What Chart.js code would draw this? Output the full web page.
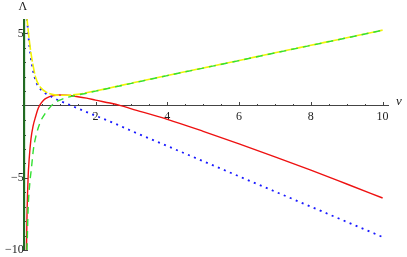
<!DOCTYPE html>
<html>
<head>
<meta charset="utf-8">
<script src="https://cdn.jsdelivr.net/npm/chart.js@4"></script>
<style>
  html, body { margin: 0; padding: 0; background: #fff; }
  #wrap { width: 407px; height: 257px; }
</style>
</head>
<body>
<div id="wrap"><canvas id="lambdaChart"></canvas></div>
<script>
// values (v, Lambda)
const redV = [0.075, 0.09, 0.12, 0.15, 0.2, 0.26, 0.33, 0.4, 0.45, 0.55, 0.63, 0.82, 1.0, 1.2, 1.4, 1.75, 2.0, 2.4, 2.7, 3, 4, 5, 6, 7, 8, 9, 10];
const redL = [-10, -7.5, -5.0, -3.7, -2.3, -1.4, -0.75, -0.2, 0.05, 0.38, 0.52, 0.69, 0.74, 0.73, 0.66, 0.52, 0.38, 0.18, 0.0, -0.22, -0.95, -1.78, -2.65, -3.55, -4.47, -5.43, -6.4];

const blueV = [0.09, 0.13, 0.18, 0.25, 0.35, 0.5, 0.65, 0.8, 1.0, 1.28, 1.56, 2.0, 2.5, 3, 4, 5, 6, 7, 8, 9, 10];
const blueL = [6.0, 4.8, 3.6, 2.5, 1.6, 1.05, 0.78, 0.58, 0.33, 0.05, -0.25, -0.7, -1.2, -1.75, -2.8, -3.85, -4.9, -5.95, -7.0, -8.05, -9.1];

const yellowV = [0.09, 0.14, 0.19, 0.25, 0.33, 0.47, 0.65, 0.82, 1.0, 1.2, 1.5, 2.0, 3, 4, 5, 6, 7, 8, 9, 10];
const yellowL = [6.0, 4.8, 3.8, 2.9, 1.95, 1.25, 0.9, 0.76, 0.72, 0.72, 0.78, 1.02, 1.56, 2.09, 2.61, 3.13, 3.66, 4.18, 4.7, 5.23];

const greenV = [0.09, 0.12, 0.17, 0.21, 0.27, 0.34, 0.45, 0.58, 0.7, 0.82, 1.1, 1.37, 1.75, 2.0, 3, 4, 5, 6, 7, 8, 9, 10];
const greenL = [-10, -7.2, -5.3, -4.4, -3.0, -2.1, -1.2, -0.6, -0.2, 0.12, 0.48, 0.67, 0.86, 1.0, 1.54, 2.08, 2.6, 3.12, 3.65, 4.17, 4.69, 5.22];

const wallV = [0.01, 0.01];
const wallL = [-10, 6];

const xLabelTicks = [2, 4, 6, 8, 10];
const yLabelTicks = [-10, -5, 5];
const xMinorTicks = [0.5, 1, 1.5, 2.5, 3, 3.5, 4.5, 5, 5.5, 6.5, 7, 7.5, 8.5, 9, 9.5];
const yMinorTicks = [-9, -8, -7, -6, -4, -3, -2, -1, 1, 2, 3, 4];

const pts = (xs, ys) => xs.map((x, i) => ({ x: x, y: ys[i] }));

// keep the centred axes from shrinking the plot area
const noPad = s => { s.paddingTop = 0; s.paddingBottom = 0; s.paddingLeft = 0; s.paddingRight = 0; };

const axisMarks = {
    id: 'axisMarks',
    beforeDatasetsDraw(chart) {
        const { ctx, scales: { x, y } } = chart;
        const y0 = Math.round(y.getPixelForValue(0));
        const x0 = Math.round(x.getPixelForValue(0));
        ctx.save();
        ctx.strokeStyle = '#444';
        ctx.lineWidth = 1;
        ctx.beginPath();
        xLabelTicks.forEach(v => { const px = Math.round(x.getPixelForValue(v)) + 0.5; ctx.moveTo(px, y0); ctx.lineTo(px, y0 - 4); });
        xMinorTicks.forEach(v => { const px = Math.round(x.getPixelForValue(v)) + 0.5; ctx.moveTo(px, y0); ctx.lineTo(px, y0 - 2); });
        yLabelTicks.forEach(v => { const py = Math.round(y.getPixelForValue(v)) + 0.5; ctx.moveTo(x0, py); ctx.lineTo(x0 + 4, py); });
        yMinorTicks.forEach(v => { const py = Math.round(y.getPixelForValue(v)) + 0.5; ctx.moveTo(x0, py); ctx.lineTo(x0 + 2, py); });
        ctx.stroke();
        ctx.restore();
    },
    afterDraw(chart) {
        const { ctx, scales: { x, y } } = chart;
        ctx.save();
        ctx.fillStyle = '#222';
        ctx.textAlign = 'center';
        ctx.textBaseline = 'middle';
        ctx.font = '12px "Liberation Serif"';
        ctx.fillText('Λ', x.getPixelForValue(0) - 1, 7);
        ctx.font = 'italic 13px "Liberation Serif"';
        ctx.fillText('v', 399, y.getPixelForValue(0) - 4);
        ctx.restore();
    }
};

const ctx = document.getElementById('lambdaChart').getContext('2d');

const lambdaChart = new Chart(ctx, {
    type: 'scatter',
    data: {
        datasets: [
            { data: pts(wallV, wallL), borderColor: '#1f6e1f', borderWidth: 2 },
            { data: pts(greenV, greenL), borderColor: '#33e033', borderWidth: 1.4, borderDash: [7, 5] },
            { data: pts(yellowV, yellowL), borderColor: '#f2f20a', borderWidth: 1.6, borderDash: [10, 2], borderDashOffset: 3 },
            { data: pts(blueV, blueL), borderColor: '#1a1aff', borderWidth: 1.8, borderDash: [2, 4.5] },
            { data: pts(redV, redL), borderColor: '#ee1111', borderWidth: 1.4 }
        ].map(d => Object.assign(d, { showLine: true, pointRadius: 0, fill: false, cubicInterpolationMode: 'monotone' }))
    },
    options: {
        responsive: true,
        maintainAspectRatio: false,
        animation: false,
        layout: { padding: { left: 22, right: 19, top: 19, bottom: 7 } },
        plugins: { legend: { display: false }, tooltip: { enabled: false } },
        scales: {
            x: {
                type: 'linear',
                min: -0.05,
                max: 10.15,
                position: { y: 0 },
                afterBuildTicks: s => { s.ticks = xLabelTicks.map(v => ({ value: v })); },
                afterFit: noPad,
                grid: { display: false, drawTicks: false },
                border: { display: true, color: '#444', width: 1 },
                ticks: {
                    autoSkip: false, maxRotation: 0, padding: 4, color: '#222',
                    font: { family: '"Liberation Serif"', size: 12 },
                    callback: v => String(v)
                }
            },
            y: {
                type: 'linear',
                min: -10,
                max: 6,
                position: { x: 0 },
                afterBuildTicks: s => { s.ticks = yLabelTicks.map(v => ({ value: v })); },
                afterFit: noPad,
                grid: { display: false, drawTicks: false },
                border: { display: true, color: '#444', width: 1 },
                ticks: {
                    autoSkip: false, padding: 5, color: '#222',
                    font: { family: '"Liberation Serif"', size: 12 },
                    callback: v => (v < 0 ? '\u2212' + Math.abs(v) : String(v))
                }
            }
        }
    },
    plugins: [axisMarks]
});
</script>
</body>
</html>
